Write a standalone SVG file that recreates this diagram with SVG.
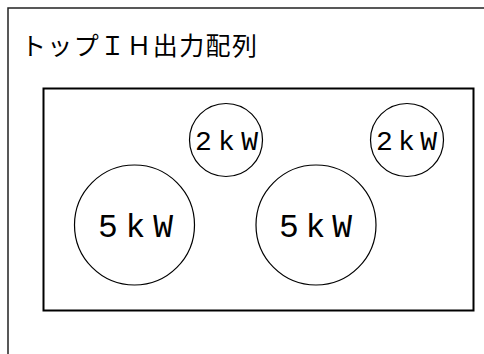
<svg xmlns="http://www.w3.org/2000/svg" width="484" height="354" viewBox="0 0 484 354">
<style>
.burner{fill:none;stroke:#000;stroke-width:1.2}
.lbl{font-family:"Liberation Mono","DejaVu Sans Mono",monospace;fill:#000;text-anchor:middle}
.title{font-family:"Noto Sans CJK JP","Noto Sans",sans-serif;font-size:25px;fill:#000}
</style>
<rect width="484" height="354" fill="#fff"/>
<g id="frame">
<rect x="8" y="8" width="500" height="400" fill="none" stroke="#222" stroke-width="1.5"/>
</g>
<text class="title" x="21" y="55" textLength="236" lengthAdjust="spacing">トップＩＨ出力配列</text>
<g id="top">
<rect x="43.5" y="88.5" width="430" height="222" fill="none" stroke="#000" stroke-width="2"/>
</g>
<g id="burner-2kw-left">
<circle class="burner" cx="226" cy="140" r="36.5"/>
<text class="lbl" x="226.5" y="150" font-size="28" textLength="63" lengthAdjust="spacing">2kW</text>
</g>
<g id="burner-2kw-right">
<circle class="burner" cx="407" cy="140" r="36.5"/>
<text class="lbl" x="406.5" y="150" font-size="28" textLength="61" lengthAdjust="spacing">2kW</text>
</g>
<g id="burner-5kw-left">
<circle class="burner" cx="134.5" cy="225" r="60"/>
<text class="lbl" x="135.5" y="237" font-size="33" textLength="75" lengthAdjust="spacing">5kW</text>
</g>
<g id="burner-5kw-right">
<circle class="burner" cx="316" cy="225" r="60"/>
<text class="lbl" x="315.5" y="237" font-size="33" textLength="73" lengthAdjust="spacing">5kW</text>
</g>
<g id="connectors"/>
</svg>
